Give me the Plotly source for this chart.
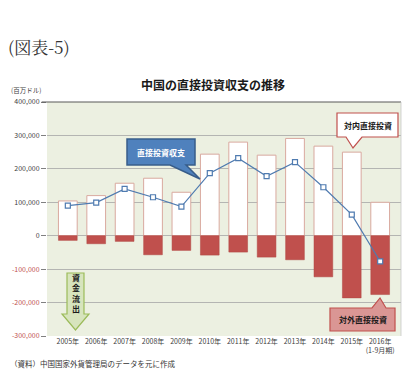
import plotly.graph_objects as go

years = ["2005年", "2006年", "2007年", "2008年", "2009年", "2010年",
         "2011年", "2012年", "2013年", "2014年", "2015年", "2016年<br>(1-9月期)"]
inward = [104000, 120000, 157000, 172000, 130000, 244000,
          280000, 241000, 291000, 268000, 250000, 100000]
outward = [-14000, -24000, -17000, -57000, -44000, -58000,
           -49000, -64000, -72000, -123000, -186000, -176000]
net = [90000, 99000, 140000, 115000, 87000, 187000,
       232000, 178000, 220000, 145000, 63000, -77000]
ytick_vals = [-300000, -200000, -100000, 0, 100000, 200000, 300000, 400000]
ytick_text = [f"{v:,}" if v >= 0 else f"<span style='color:#C0504D'>-{abs(v):,}</span>" for v in ytick_vals]

W, H = 409, 375
ML, MR, MT, MB = 47, 8, 102, 39
PW, PH = W - ML - MR, H - MT - MB
FONT = "Noto Sans CJK JP"


def px(x, y):
    return ((x - ML) / PW, (H - MB - y) / PH)


def path(points):
    s = ""
    for i, (x, y) in enumerate(points):
        u, v = px(x, y)
        s += ("M" if i == 0 else "L") + f"{u:.4f},{v:.4f}"
    return s + "Z"


fig = go.Figure()
fig.add_trace(go.Bar(x=years, y=inward, marker=dict(color="#FFFFFF", line=dict(color="#D9A99F", width=1)),
                     width=0.66, name="対内直接投資"))
fig.add_trace(go.Bar(x=years, y=outward, marker=dict(color="#C0504D", line=dict(color="#B04643", width=0.5)),
                     width=0.66, name="対外直接投資"))
fig.add_trace(go.Scatter(x=years, y=net, mode="lines+markers", name="直接投資収支",
                         line=dict(color="#4F7BB0", width=1.2),
                         marker=dict(symbol="square", size=5, color="#FFFFFF",
                                     line=dict(color="#4F7BB0", width=1.2))))

shapes = []
shapes.append(dict(type="path", xref="paper", yref="paper",
                   path=path([(127, 139), (195, 139), (195, 165), (186, 165), (200, 179), (170, 165), (127, 165)]),
                   fillcolor="#4F81BD", line=dict(color="#385D8A", width=1.5), layer="above"))
shapes.append(dict(type="path", xref="paper", yref="paper",
                   path=path([(337, 113), (398, 113), (398, 137), (362, 137), (353, 148), (346, 137), (337, 137)]),
                   fillcolor="#FFFFFF", line=dict(color="#C0504D", width=1.2), layer="above"))
shapes.append(dict(type="path", xref="paper", yref="paper",
                   path=path([(330, 308), (372, 308), (380, 298), (386, 308), (395, 308), (395, 331), (330, 331)]),
                   fillcolor="#DA9694", line=dict(color="#C0504D", width=1.2), layer="above"))
shapes.append(dict(type="path", xref="paper", yref="paper",
                   path=path([(67, 273), (84, 273), (84, 314), (89, 314), (75.5, 330), (62, 314), (67, 314)]),
                   fillcolor="#D7E4BD", line=dict(color="#9BBB59", width=1.2), layer="above"))

annotations = [
    ("(図表-5)", 6, 47, 17, "#333333", "left", "Noto Serif CJK JP, " + FONT),
    ("<b>中国の直接投資収支の推移</b>", 213, 84, 12, "#1A1A1A", "center", FONT),
    ("(百万ドル)", 9, 90, 6.5, "#404040", "left", FONT),
    ("（資料）中国国家外貨管理局のデータを元に作成", 8, 363, 7.5, "#333333", "left", FONT),
    ("<b>直接投資収支</b>", 161, 152, 8, "#FFFFFF", "center", FONT),
    ("<b>対内直接投資</b>", 367.5, 125, 8, "#1A1A1A", "center", FONT),
    ("<b>対外直接投資</b>", 362.5, 319.5, 8, "#1A1A1A", "center", FONT),
    ("<b>資<br>金<br>流<br>出</b>", 75.5, 293, 8, "#1A1A1A", "center", FONT),
]
ann_final = []
for text, xx, yy, size, color, xa, fam in annotations:
    u, v = px(xx, yy)
    ann_final.append(dict(text=text, x=u, y=v, xref="paper", yref="paper", showarrow=False,
                          xanchor=xa, yanchor="middle", font=dict(family=fam, size=size, color=color)))

fig.update_layout(
    width=W, height=H, margin=dict(l=ML, r=MR, t=MT, b=MB, autoexpand=False),
    paper_bgcolor="#FFFFFF", plot_bgcolor="#ECF0E1",
    barmode="relative", bargap=0.34, showlegend=False,
    font=dict(family=FONT, size=7, color="#404040"),
    shapes=shapes, annotations=ann_final,
    xaxis=dict(type="category", showgrid=False, showline=False, ticks="", automargin=False,
               tickfont=dict(size=7, color="#404040"), tickangle=0),
    yaxis=dict(range=[-300000, 400000], tickvals=ytick_vals, ticktext=ytick_text, automargin=False,
               showgrid=True, gridcolor="#A6A6A6", gridwidth=0.8, zeroline=False,
               ticks="outside", ticklen=5, tickcolor="#808080",
               tickfont=dict(size=7, color="#404040")),
)
fig.add_shape(type="line", xref="paper", yref="paper", x0=-0.015, x1=1, y0=1, y1=1,
              line=dict(color="#595959", width=1.2))
fig.add_shape(type="line", xref="paper", yref="paper", x0=1, x1=1, y0=0, y1=1,
              line=dict(color="#C8C8C8", width=0.8))

fig.write_html("out.html", config={"displayModeBar": False, "staticPlot": True},
               post_script="document.body.style.margin='0';document.body.style.overflow='hidden';")
